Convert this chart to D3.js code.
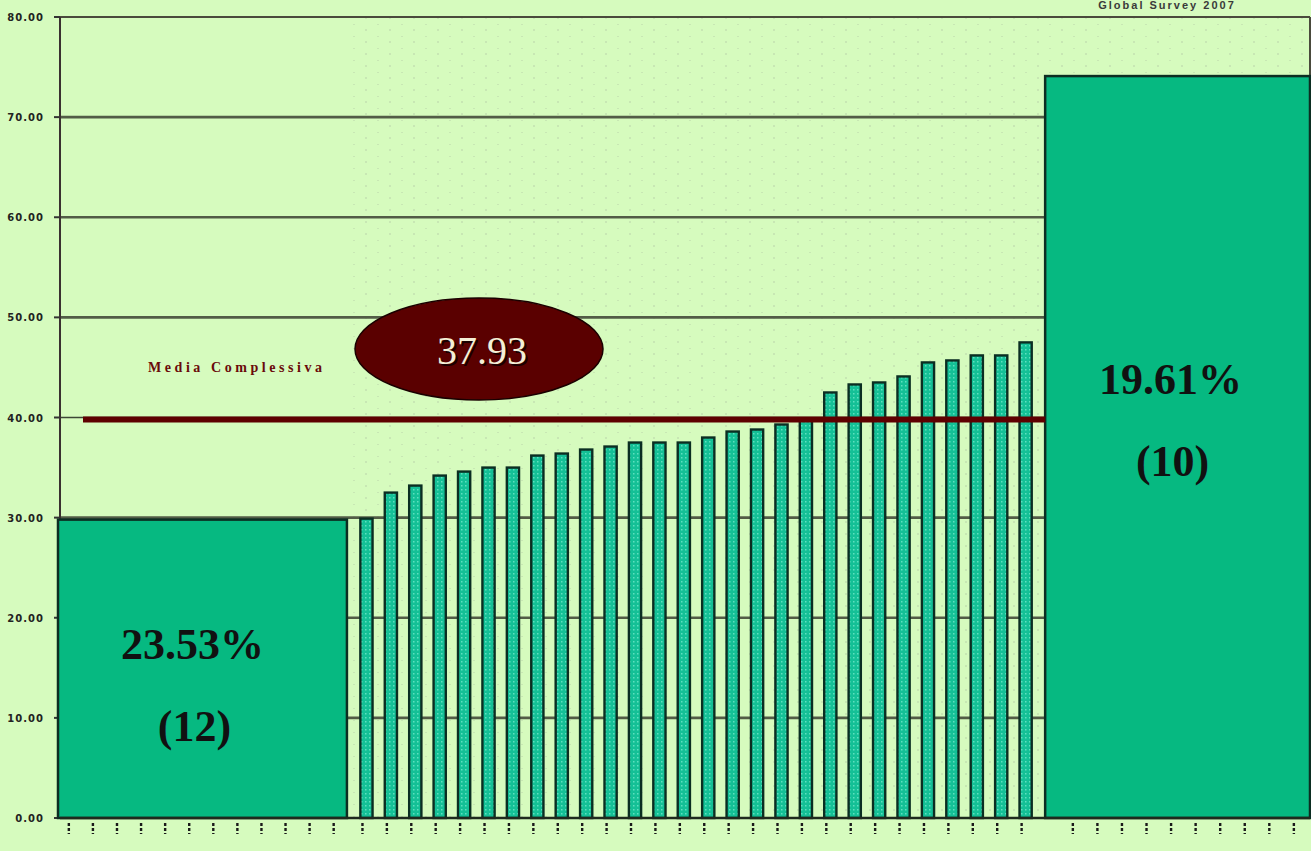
<!DOCTYPE html>
<html>
<head>
<meta charset="utf-8">
<script src="https://cdn.jsdelivr.net/npm/d3@7"></script>
<style>
  html, body { margin: 0; padding: 0; background: #d6fbbe; overflow: hidden; }
  svg { display: block; }
</style>
</head>
<body>
<svg id="chart" width="1311" height="851"></svg>
<script>
// ---------- data ----------
const yTicks = [0, 10, 20, 30, 40, 50, 60, 70, 80];
const gridValues = [10, 20, 30, 50, 60, 70];
const middleValues = [29.9, 32.5, 33.2, 34.2, 34.6, 35.0, 35.0, 36.2, 36.4, 36.8, 37.1, 37.5, 37.5, 37.5,
                      38.0, 38.6, 38.8, 39.3, 39.9, 42.5, 43.3, 43.5, 44.1, 45.5, 45.7, 46.2, 46.2, 47.5];
const leftGroup = { value: 29.8, count: 12, share: "23.53%", label: "(12)" };
const rightGroup = { value: 74.1, count: 10, share: "19.61%", label: "(10)" };
const medianValue = "37.93";
const medianLineValue = 39.8;
const medianLabel = "Media Complessiva";
const cornerTitle = "Global Survey 2007";

// ---------- layout ----------
const svg = d3.select("#chart");
const plot = { left: 60, right: 1310, top: 17, bottom: 818 };
const unitsTotal = 52;
const y = d3.scaleLinear().domain([0, 80]).range([plot.bottom, plot.top]);
const x = d3.scaleLinear().domain([0, unitsTotal]).range([58, plot.right]);

const middleStart = leftGroup.count;
const middleEnd = middleStart + middleValues.length + 1;
const xb = d3.scaleBand()
  .domain(d3.range(middleValues.length))
  .range([x(middleStart), x(middleEnd)])
  .paddingInner(0.5)
  .paddingOuter(0.55);

svg.append("rect").attr("width", 1311).attr("height", 851).attr("fill", "#d6fbbe");

const defs = svg.append("defs");
const pat = defs.append("pattern").attr("id", "dots").attr("width", 4).attr("height", 4)
  .attr("patternUnits", "userSpaceOnUse");
pat.append("rect").attr("width", 4).attr("height", 4).attr("fill", "#14c096");
pat.append("rect").attr("x", 1).attr("y", 1).attr("width", 1.5).attr("height", 1.5).attr("fill", "#5ee0bf");

const bgPat = defs.append("pattern").attr("id", "bgdots").attr("width", 24).attr("height", 12)
  .attr("patternUnits", "userSpaceOnUse");
bgPat.append("circle").attr("cx", 6).attr("cy", 6).attr("r", 0.8).attr("fill", "#9aa894");
bgPat.append("circle").attr("cx", 18).attr("cy", 0).attr("r", 0.8).attr("fill", "#9aa894");

svg.append("rect")
  .attr("x", x(middleStart)).attr("y", plot.top)
  .attr("width", plot.right - x(middleStart)).attr("height", plot.bottom - plot.top)
  .attr("fill", "url(#bgdots)").attr("opacity", 0.55);

// title (top right, partly hidden in the original)
svg.append("text")
  .attr("x", 1167).attr("y", 9)
  .attr("text-anchor", "middle")
  .attr("font-family", "Liberation Sans, Arial, sans-serif")
  .attr("font-size", 11).attr("font-weight", "bold")
  .attr("letter-spacing", 2)
  .attr("fill", "#3a3a3a")
  .text(cornerTitle);

// gridlines
svg.append("g").selectAll("line").data(gridValues).join("line")
  .attr("x1", plot.left).attr("x2", plot.right)
  .attr("y1", d => y(d)).attr("y2", d => y(d))
  .attr("stroke", "#525c46").attr("stroke-width", 2.6);
svg.append("line").attr("x1", plot.left).attr("x2", plot.right)
  .attr("y1", y(40)).attr("y2", y(40))
  .attr("stroke", "#3d4636").attr("stroke-width", 1.5);

// top frame
svg.append("line").attr("x1", 55).attr("x2", plot.right).attr("y1", y(80)).attr("y2", y(80))
  .attr("stroke", "#4a4a3c").attr("stroke-width", 2);
svg.append("line").attr("x1", plot.right).attr("x2", plot.right).attr("y1", y(80)).attr("y2", y(rightGroup.value))
  .attr("stroke", "#4a4a3c").attr("stroke-width", 2);

// y axis
const yAxis = svg.append("g");
yAxis.selectAll("text").data(yTicks).join("text")
  .attr("x", 44).attr("y", d => y(d) + 4)
  .attr("text-anchor", "end")
  .attr("font-family", "DejaVu Sans, Arial, sans-serif")
  .attr("font-size", 10).attr("font-weight", "bold")
  .attr("letter-spacing", 1)
  .attr("fill", "#222")
  .text(d => d3.format(".2f")(d));
yAxis.selectAll("line").data(yTicks).join("line")
  .attr("x1", 54).attr("x2", plot.left).attr("y1", d => y(d)).attr("y2", d => y(d))
  .attr("stroke", "#333").attr("stroke-width", 2);
svg.append("line").attr("x1", plot.left).attr("x2", plot.left).attr("y1", y(80)).attr("y2", y(0))
  .attr("stroke", "#3a3030").attr("stroke-width", 2);

// big bars
svg.append("rect")
  .attr("x", x(0)).attr("y", y(leftGroup.value))
  .attr("width", x(leftGroup.count) - x(0)).attr("height", y(0) - y(leftGroup.value))
  .attr("fill", "#06b981").attr("stroke", "#0c2e22").attr("stroke-width", 2.5);
svg.append("rect")
  .attr("x", x(middleEnd)).attr("y", y(rightGroup.value))
  .attr("width", plot.right - x(middleEnd)).attr("height", y(0) - y(rightGroup.value))
  .attr("fill", "#06b981").attr("stroke", "#0c2e22").attr("stroke-width", 2.5);

// middle bars
svg.append("g").selectAll("rect").data(middleValues).join("rect")
  .attr("x", (d, i) => xb(i)).attr("y", d => y(d))
  .attr("width", xb.bandwidth()).attr("height", d => y(0) - y(d))
  .attr("fill", "url(#dots)").attr("stroke", "#0b2e22").attr("stroke-width", 2.4);

// bottom axis
svg.append("line").attr("x1", plot.left).attr("x2", plot.right).attr("y1", y(0)).attr("y2", y(0))
  .attr("stroke", "#1e2a1e").attr("stroke-width", 2.5);

// x tick marks
const tickPositions = []
  .concat(d3.range(leftGroup.count).map(i => x(i + 0.45)))
  .concat(d3.range(middleValues.length).map(i => xb(i) + xb.bandwidth() / 2 - 4))
  .concat(d3.range(rightGroup.count).map(i => x(middleEnd + 1.15 + i * 1.02)));
svg.append("g").selectAll("line").data(tickPositions).join("line")
  .attr("x1", d => d).attr("x2", d => d)
  .attr("y1", y(0) + 5).attr("y2", y(0) + 16)
  .attr("stroke", "#1a1a1a").attr("stroke-width", 2.4)
  .attr("stroke-dasharray", "3,2");

// median line
svg.append("line")
  .attr("x1", 83).attr("x2", x(middleEnd))
  .attr("y1", y(medianLineValue)).attr("y2", y(medianLineValue))
  .attr("stroke", "#5e0000").attr("stroke-width", 6);

// median label
svg.append("text")
  .attr("x", 148).attr("y", 372)
  .attr("font-family", "Liberation Serif, Times New Roman, serif")
  .attr("font-size", 14).attr("font-weight", "bold")
  .attr("fill", "#6a0a0a")
  .attr("textLength", 174).attr("lengthAdjust", "spacing")
  .text(medianLabel);

// ellipse with median value
svg.append("ellipse")
  .attr("cx", 479).attr("cy", 349).attr("rx", 124).attr("ry", 51)
  .attr("fill", "#5a0000").attr("stroke", "#1a0000").attr("stroke-width", 1.5);
svg.append("text")
  .attr("x", 484).attr("y", 366)
  .attr("text-anchor", "middle")
  .attr("font-family", "Liberation Serif, Times New Roman, serif")
  .attr("font-size", 40)
  .attr("fill", "#1a0000")
  .text(medianValue);
svg.append("text")
  .attr("x", 482).attr("y", 364)
  .attr("text-anchor", "middle")
  .attr("font-family", "Liberation Serif, Times New Roman, serif")
  .attr("font-size", 40)
  .attr("fill", "#f3efd6")
  .text(medianValue);

// big bar labels
const labelFont = "Liberation Serif, Times New Roman, serif";
function bigLabel(cx, yy, txt) {
  svg.append("text")
    .attr("x", cx).attr("y", yy)
    .attr("text-anchor", "middle")
    .attr("font-family", labelFont)
    .attr("font-size", 44).attr("font-weight", "bold")
    .attr("fill", "#111")
    .text(txt);
}
const leftCx = (x(0) + x(leftGroup.count)) / 2 - 10;
const rightCx = (x(middleEnd) + plot.right) / 2 - 7;
bigLabel(leftCx, 659, leftGroup.share);
bigLabel(leftCx + 2, 741, leftGroup.label);
bigLabel(rightCx, 394, rightGroup.share);
bigLabel(rightCx + 2, 476, rightGroup.label);
</script>
</body>
</html>
